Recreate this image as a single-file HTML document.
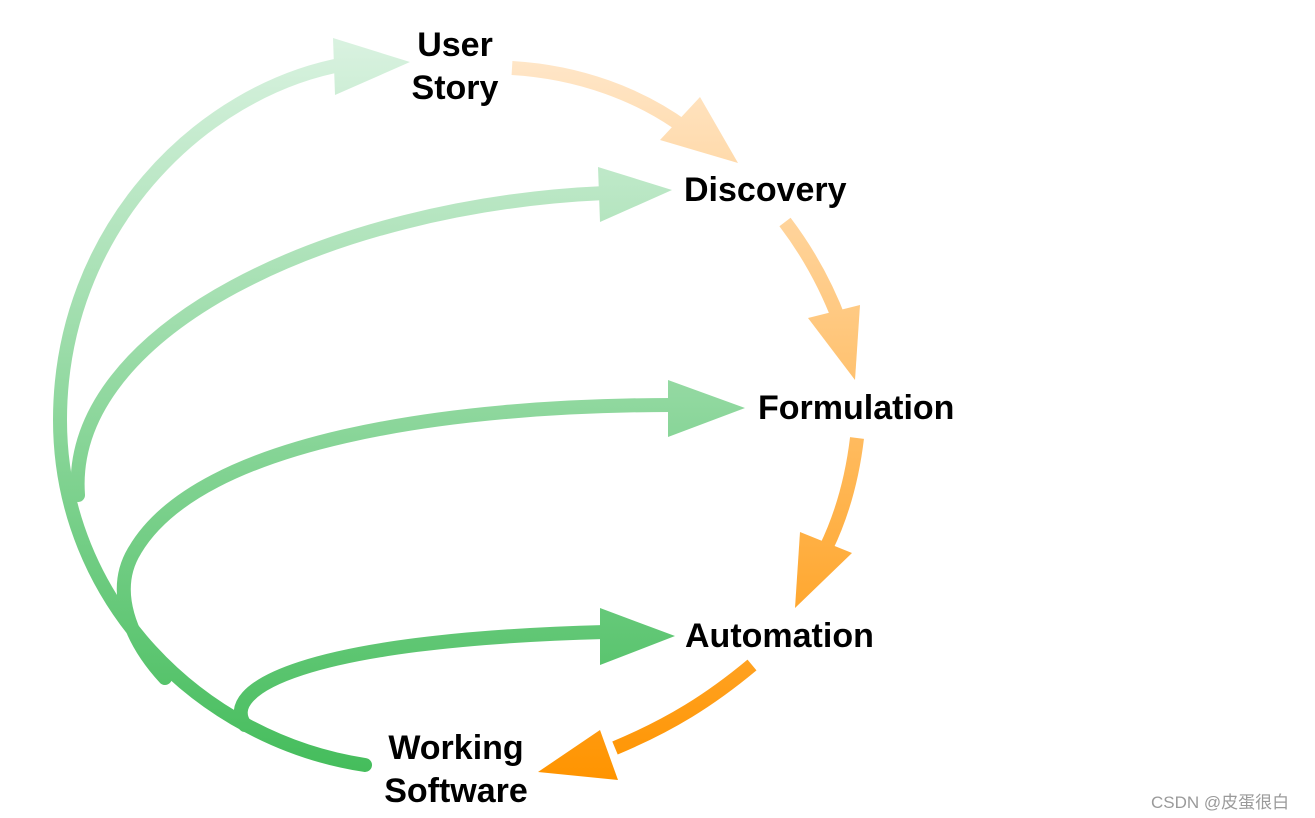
<!DOCTYPE html>
<html><head><meta charset="utf-8"><style>
html,body{margin:0;padding:0;background:#fff;}
body{width:1315px;height:818px;position:relative;overflow:hidden;}
.t{position:absolute;font-family:"Liberation Sans",Arial,sans-serif;font-weight:bold;font-size:34px;color:#000;line-height:43px;white-space:nowrap;}
.w{position:absolute;font-family:"Liberation Sans","Noto Sans CJK SC",sans-serif;font-size:17px;color:#9a9a9a;}
</style></head><body>
<svg width="1315" height="818" style="position:absolute;left:0;top:0">
<defs>
<linearGradient id="g" gradientUnits="userSpaceOnUse" x1="0" y1="40" x2="0" y2="770">
<stop offset="0" stop-color="#d9f2e0"/><stop offset="1" stop-color="#45bd5c"/></linearGradient>
<linearGradient id="o" gradientUnits="userSpaceOnUse" x1="0" y1="60" x2="0" y2="780">
<stop offset="0" stop-color="#ffe6c8"/><stop offset="1" stop-color="#ff9400"/></linearGradient>
</defs>
<g fill="none" stroke="url(#g)" stroke-width="14" stroke-linecap="round">
<path d="M365,765 C200,740 60,600 60,420 C60,230 200,90 345,64"/>
<path d="M78,495 C66,330 330,205 605,193"/>
<path d="M165,678 C130,640 110,590 135,550 C200,440 450,405 672,405"/>
<path d="M245,725 C220,690 300,640 605,632"/>
</g>
<g fill="url(#g)">
<polygon points="333,38 410,62 335,95"/>
<polygon points="598,167 672,190 600,222"/>
<polygon points="668,380 745,408 668,437"/>
<polygon points="600,608 675,636 600,665"/>
</g>
<g fill="none" stroke="url(#o)" stroke-width="14">
<path d="M512,68 C580,72 640,95 685,128"/>
<path d="M785,222 C810,255 828,290 840,322"/>
<path d="M857,438 C852,480 842,515 826,548"/>
<path d="M752,665 C710,700 670,725 615,748"/>
</g>
<g fill="url(#o)">
<polygon points="660,140 700,97 738,163"/>
<polygon points="808,318 860,305 855,380"/>
<polygon points="800,532 852,553 795,608"/>
<polygon points="600,730 618,780 538,772"/>
</g>
</svg>
<div class="t" style="left:455px;top:24px;transform:translateX(-50%);text-align:center">User<br>Story</div>
<div class="t" style="left:684px;top:169px">Discovery</div>
<div class="t" style="left:758px;top:387px">Formulation</div>
<div class="t" style="left:685px;top:615px">Automation</div>
<div class="t" style="left:456px;top:727px;transform:translateX(-50%);text-align:center">Working<br>Software</div>
<div class="w" style="left:1151px;top:788px">CSDN @皮蛋很白</div>
</body></html>
